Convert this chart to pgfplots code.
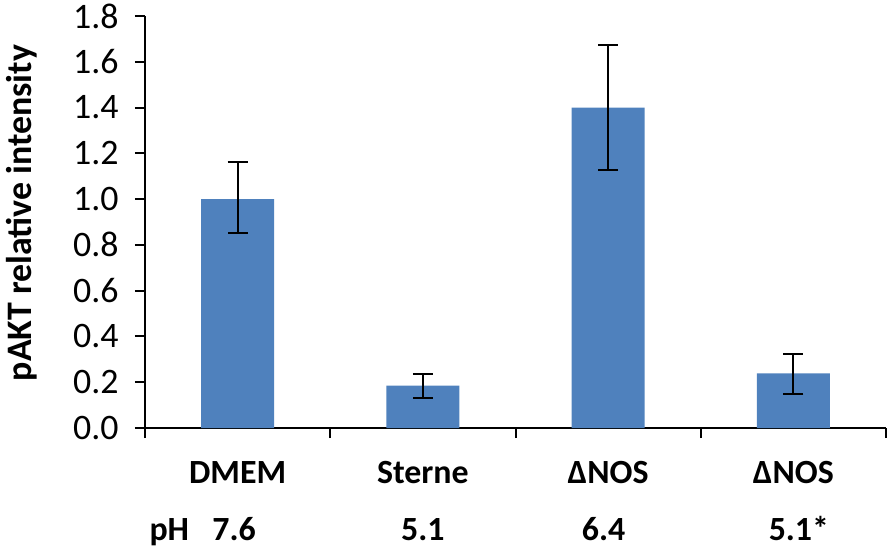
\documentclass[border=0pt]{standalone}
\usepackage{fontspec}
\setmainfont{Carlito}
\usepackage{pgfplots}
\pgfplotsset{compat=1.18}
\definecolor{barblue}{RGB}{79,129,189}
\pgfplotstableread{
x y ep em
0 1.000 0.160 0.150
1 0.185 0.050 0.053
2 1.400 0.273 0.273
3 0.239 0.084 0.092
}\datatable
\begin{document}
\begin{tikzpicture}
\useasboundingbox (-145bp,-122bp) rectangle (747bp,428bp);
\begin{axis}[
  at={(0,0)}, anchor=south west,
  scale only axis, width=741bp, height=412bp,
  xmin=-0.5, xmax=3.5, ymin=0, ymax=1.8,
  clip=false,
  axis x line*=bottom, axis y line*=left,
  axis line style={line width=2bp, black},
  tick align=outside,
  major tick length=10bp, minor tick length=10bp,
  tick style={line width=2bp, black},
  ytick={0,0.2,0.4,0.6,0.8,1.0,1.2,1.4,1.6,1.8},
  yticklabel style={font=\fontsize{36}{40}\selectfont, xshift=-13bp,
    /pgf/number format/.cd, fixed, fixed zerofill, precision=1, assume math mode=true},
  xtick={0,1,2,3},
  xticklabels={DMEM,Sterne,ΔNOS,ΔNOS},
  minor xtick={-0.5,0.5,1.5,2.5,3.5},
  major x tick style={draw=none},
  xticklabel style={font=\bfseries\fontsize{34}{40}\selectfont, anchor=base, yshift=-45bp},
  ylabel={pAKT relative intensity},
  ylabel style={font=\bfseries\fontsize{36}{40}\selectfont, at={([xshift=-123bp,yshift=9bp]rel axis cs:0,0.5)}, anchor=center},
]
\addplot[ybar, bar width=73bp, fill=barblue, draw=none,
  error bars/.cd, y dir=both, y explicit,
  error bar style={draw=black, line width=2bp},
  error mark options={draw=black, line width=2bp, mark size=10bp, rotate=90}]
  table[x=x, y=y, y error plus=ep, y error minus=em] {\datatable};
\node[font=\bfseries\fontsize{34}{40}\selectfont, anchor=base west] at ([xshift=1bp,yshift=-112bp]axis cs:-0.5,0) {pH};
\node[font=\bfseries\fontsize{34}{40}\selectfont, anchor=base] at ([xshift=-3.5bp,yshift=-112bp]axis cs:0,0) {7.6};
\node[font=\bfseries\fontsize{34}{40}\selectfont, anchor=base] at ([yshift=-112bp]axis cs:1,0) {5.1};
\node[font=\bfseries\fontsize{34}{40}\selectfont, anchor=base] at ([xshift=-4.5bp,yshift=-112bp]axis cs:2,0) {6.4};
\node[font=\bfseries\fontsize{34}{40}\selectfont, anchor=base] at ([xshift=5.5bp,yshift=-112bp]axis cs:3,0) {5.1*};
\end{axis}
\end{tikzpicture}
\end{document}
